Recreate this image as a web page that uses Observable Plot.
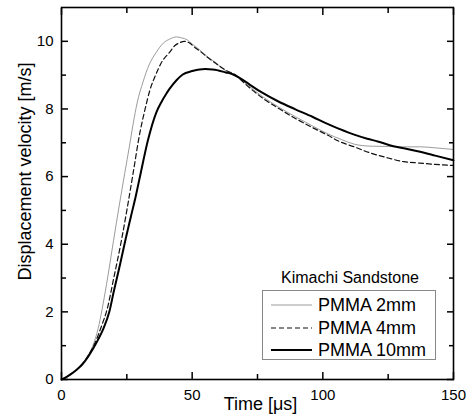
<!DOCTYPE html>
<html>
<head>
<meta charset="utf-8">
<script src="https://cdn.jsdelivr.net/npm/d3@7"></script>
<script src="https://cdn.jsdelivr.net/npm/@observablehq/plot@0.6"></script>
<style>
  html, body { margin: 0; padding: 0; background: white; }
  #wrap { position: relative; width: 473px; height: 414px; font-family: "Liberation Sans", Arial, sans-serif; color: #000; }
  #legend-title { position: absolute; left: 262px; width: 176px; top: 270px; text-align: center; font-size: 16px; line-height: 16px; }
  #legend-box { position: absolute; left: 262px; top: 290px; width: 172px; height: 68px; border: 1px solid #888; background: white; }
  .lrow { position: absolute; left: 271px; height: 18px; font-size: 18px; line-height: 18px; white-space: nowrap; }
  .lrow svg { position: absolute; left: 0; top: 0; }
  .lrow span { position: absolute; left: 47px; top: 0; }
</style>
</head>
<body>
<div id="wrap">
  <div id="chart"></div>
</div>
<script>
// ---- data ----
const seriesNames = ["PMMA 2mm", "PMMA 4mm", "PMMA 10mm"];
const legendTitle = "Kimachi Sandstone";

const time2 = [0,2,4,6,8,10,12,14,15.5,17.2,19.9,22,24.2,26,27.4,29,31.2,33.5,36.3,39,41.5,44,46,48,50,53,56,59,62,65,70,76.8,83,89.5,96,102,107,112,118,125,131,137.5,143,150];
const vel2  = [0,0.08,0.18,0.3,0.47,0.7,1.0,1.5,2.06,2.8,4.1,5.1,6.1,6.9,7.55,8.2,8.8,9.3,9.68,9.95,10.07,10.13,10.1,10.05,9.92,9.74,9.53,9.37,9.17,9.05,8.78,8.37,8.06,7.77,7.5,7.26,7.1,6.96,6.9,6.89,6.88,6.88,6.85,6.8];

const time4 = [0,2,4,6,8,10,12,14,15.5,17.4,20,23,25,27.4,30,32,33.8,36,38.3,41.4,43.3,45,47,49,51,52.8,56,59,63,66.7,70,76.8,83,89.5,96,102,106,112,118.5,125,131,137,143,150];
const vel4  = [0,0.08,0.18,0.3,0.46,0.68,0.95,1.3,1.62,2.06,3.0,4.14,5.0,6.1,7.3,8.0,8.55,9.0,9.38,9.68,9.87,9.95,10.0,9.95,9.82,9.72,9.52,9.35,9.14,9.0,8.76,8.33,8.02,7.72,7.45,7.22,7.05,6.88,6.69,6.55,6.44,6.4,6.36,6.33];

const time10 = [0,2,4,6,8,10,12,14,16,18.3,20,22.4,24.5,26.5,28.5,30.3,33,36.3,38.2,40.1,41.4,44,46.4,50,52.8,55,57.8,60,62.9,65,68,72,76.8,83,89.5,96,102,106,112,117,121,127,131,136.3,143,150];
const vel10  = [0,0.08,0.18,0.3,0.45,0.65,0.9,1.18,1.5,2.0,2.6,3.4,4.14,4.8,5.45,6.1,7.05,7.9,8.2,8.45,8.6,8.85,9.02,9.12,9.17,9.18,9.17,9.14,9.08,9.04,8.93,8.72,8.48,8.22,7.99,7.77,7.55,7.42,7.24,7.12,7.04,6.9,6.84,6.75,6.62,6.48];

const xMajor = [0, 50, 100, 150];
const xMinor = [25, 75, 125];
const yMajor = [0, 2, 4, 6, 8, 10];
const yMinor = [1, 3, 5, 7, 9];

// ---- styles ----
const styles = [
  {stroke: "#9c9c9c", strokeWidth: 1, dash: null},
  {stroke: "#111", strokeWidth: 1.2, dash: "5,3"},
  {stroke: "#000", strokeWidth: 2, dash: null}
];

const zip = (ts, vs) => ts.map((t, i) => ({t, v: vs[i]}));
const datasets = [zip(time2, vel2), zip(time4, vel4), zip(time10, vel10)];

const blank = () => "";
const chart = Plot.plot({
  width: 473,
  height: 414,
  marginLeft: 61,
  marginRight: 20,
  marginTop: 7,
  marginBottom: 35,
  x: {domain: [0, 150]},
  y: {domain: [0, 11]},
  style: {fontFamily: "'Liberation Sans', Arial, sans-serif", fontSize: "15px", background: "white", color: "#000", overflow: "visible"},
  marks: [
    // tick labels
    Plot.axisX({ticks: xMajor, tickSize: 0, tickPadding: 10, tickFormat: d => String(d), label: null, fontSize: 15}),
    Plot.axisY({ticks: yMajor, tickSize: 0, tickPadding: 8, tickFormat: d => String(d), label: null, fontSize: 15}),
    // inward ticks: bottom / top
    Plot.axisX({anchor: "bottom", ticks: xMajor, tickSize: 7, dy: -7, tickFormat: blank, label: null, strokeWidth: 1.5}),
    Plot.axisX({anchor: "bottom", ticks: xMinor, tickSize: 5, dy: -5, tickFormat: blank, label: null, strokeWidth: 1.5}),
    Plot.axisX({anchor: "top", ticks: xMajor, tickSize: 7, dy: 7, tickFormat: blank, label: null, strokeWidth: 1.5}),
    Plot.axisX({anchor: "top", ticks: xMinor, tickSize: 5, dy: 5, tickFormat: blank, label: null, strokeWidth: 1.5}),
    // inward ticks: left / right
    Plot.axisY({anchor: "left", ticks: yMajor, tickSize: 7, dx: 7, tickFormat: blank, label: null, strokeWidth: 1.5}),
    Plot.axisY({anchor: "left", ticks: yMinor, tickSize: 5, dx: 5, tickFormat: blank, label: null, strokeWidth: 1.5}),
    Plot.axisY({anchor: "right", ticks: yMajor, tickSize: 7, dx: -7, tickFormat: blank, label: null, strokeWidth: 1.5}),
    Plot.axisY({anchor: "right", ticks: yMinor, tickSize: 5, dx: -5, tickFormat: blank, label: null, strokeWidth: 1.5}),
    // data lines
    ...datasets.map((d, i) => Plot.line(d, {
      x: "t", y: "v",
      stroke: styles[i].stroke,
      strokeWidth: styles[i].strokeWidth,
      strokeDasharray: styles[i].dash,
      curve: "monotone-x"
    })),
    Plot.frame({stroke: "#000", strokeWidth: 1.6}),
    // axis titles
    Plot.text(["Time [μs]"], {frameAnchor: "bottom", textAnchor: "middle", lineAnchor: "middle", dx: 3, dy: 25, fontSize: 18}),
    Plot.text(["Displacement velocity [m/s]"], {frameAnchor: "left", textAnchor: "middle", lineAnchor: "middle", rotate: -90, dx: -36, dy: -22, fontSize: 18})
  ]
});
const wrap = document.getElementById("wrap");
document.getElementById("chart").appendChild(chart);

// ---- legend (HTML overlay) ----
const title = document.createElement("div");
title.id = "legend-title";
title.textContent = legendTitle;
wrap.appendChild(title);
const box = document.createElement("div");
box.id = "legend-box";
wrap.appendChild(box);
const rowTops = [296, 318.5, 341];
seriesNames.forEach((name, i) => {
  const row = document.createElement("div");
  row.className = "lrow";
  row.style.top = rowTops[i] + "px";
  const s = styles[i];
  row.innerHTML = `<svg width="42" height="18"><line x1="0" x2="41" y1="9" y2="9" stroke="${s.stroke}" stroke-width="${s.strokeWidth}" ${s.dash ? `stroke-dasharray="${s.dash}"` : ""}/></svg><span>${name}</span>`;
  wrap.appendChild(row);
});
</script>
</body>
</html>
